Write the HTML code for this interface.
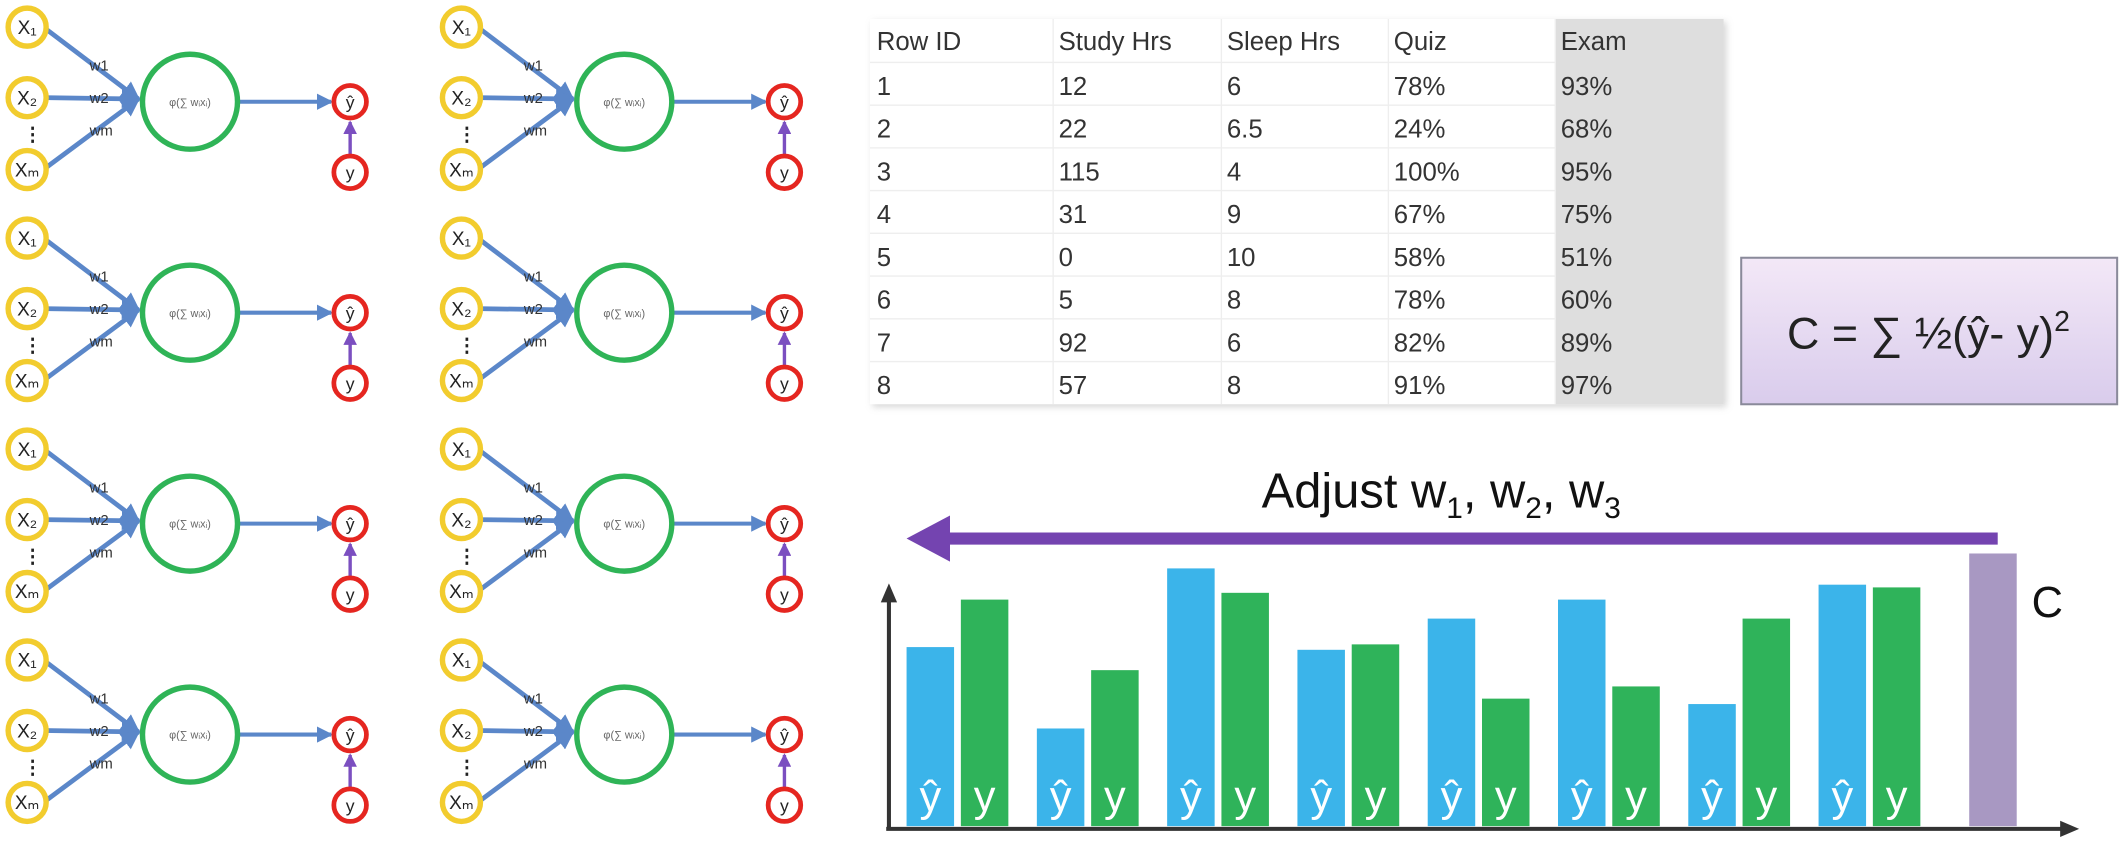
<!DOCTYPE html>
<html><head><meta charset="utf-8"><style>
html,body{margin:0;padding:0;background:#fff;}
svg{display:block;font-family:"Liberation Sans",sans-serif;}
</style></head><body>
<svg id="root" width="2128" height="856" viewBox="0 0 1568 631" preserveAspectRatio="none" xmlns="http://www.w3.org/2000/svg">
<defs>
<linearGradient id="boxg" x1="0" y1="0" x2="0" y2="1"><stop offset="0" stop-color="#f3e8f7"/><stop offset="1" stop-color="#d9ccec"/></linearGradient>
<marker id="ah" markerWidth="4" markerHeight="4" refX="3.5" refY="2" orient="auto" markerUnits="strokeWidth"><path d="M0,0 L4,2 L0,4 z" fill="#5b87c9"/></marker>
<marker id="ahp" markerWidth="4" markerHeight="4" refX="3.5" refY="2" orient="auto" markerUnits="strokeWidth"><path d="M0,0 L4,2 L0,4 z" fill="#7b4fc0"/></marker>
<filter id="blur"><feGaussianBlur stdDeviation="2.5"/></filter>
</defs>
<g id="nets"></g>
<g id="table"></g>
<g>
<rect x="1283" y="190" width="277" height="108" fill="url(#boxg)" stroke="#8a8a9a" stroke-width="1.5"/>
<text x="1421" y="257" text-anchor="middle" font-size="33" fill="#222">C = ∑ ½(ŷ- y)<tspan dy="-13" font-size="21">2</tspan></text>
</g>
<g>
<text x="1062" y="374" text-anchor="middle" font-size="36" fill="#111">Adjust w<tspan dy="8" font-size="22">1</tspan><tspan dy="-8">, w</tspan><tspan dy="8" font-size="22">2</tspan><tspan dy="-8">, w</tspan><tspan dy="8" font-size="22">3</tspan></text>
<line x1="1472" y1="397" x2="692" y2="397" stroke="#b89ae0" stroke-width="16" opacity="0.5" filter="url(#blur)"/>
<line x1="1472" y1="397" x2="692" y2="397" stroke="#7444b0" stroke-width="9"/>
<path d="M668,397 L700,380 L700,414 z" fill="#7444b0"/>
</g>
<g id="chart"></g>
</svg>
<script>
const categories=["1","2","3","4","5","6","7","8"];
const yhatValues=[132,72,190,130,153,167,90,178];
const yValues=[167,115,172,134,94,103,153,176];
const costValue=201;
const headers=["Row ID","Study Hrs","Sleep Hrs","Quiz","Exam"];
const rows=[["1","12","6","78%","93%"],["2","22","6.5","24%","68%"],["3","115","4","100%","95%"],["4","31","9","67%","75%"],["5","0","10","58%","51%"],["6","5","8","78%","60%"],["7","92","6","82%","89%"],["8","57","8","91%","97%"]];
const NS="http://www.w3.org/2000/svg";
function mk(tag,attrs,parent,txt){const e=document.createElementNS(NS,tag);for(const k in attrs)e.setAttribute(k,attrs[k]);if(txt!==undefined)e.textContent=txt;parent.appendChild(e);return e;}

const nets=document.getElementById('nets');
for(let c=0;c<2;c++)for(let r=0;r<4;r++){
  const ox=c*320, oy=r*155.5;
  const g=mk('g',{transform:`translate(${ox},${oy})`},nets);
  
  
  const ins=[[20,20],[20,72],[20,125]];
  ins.forEach(p=>mk('line',{x1:p[0]+12,y1:p[1],x2:102,y2:73,stroke:'#5b87c9','stroke-width':3.5,'marker-end':'url(#ah)'},g));
  mk('line',{x1:176,y1:75,x2:244,y2:75,stroke:'#5b87c9','stroke-width':3,'marker-end':'url(#ah)'},g);
  mk('text',{x:66,y:52,'font-size':11,fill:'#333'},g,'w1');
  mk('text',{x:66,y:76,'font-size':11,fill:'#333'},g,'w2');
  mk('text',{x:66,y:100,'font-size':11,fill:'#333'},g,'wm');
  mk('text',{x:17,y:104,'font-size':14,fill:'#222','font-weight':'bold'},g,'⋮');
  const lbl=['X₁','X₂','Xₘ'];
  ins.forEach((p,i)=>{mk('circle',{cx:p[0],cy:p[1],r:14,fill:'#fff',stroke:'#f2cc2e','stroke-width':4},g);mk('text',{x:p[0],y:p[1]+5,'text-anchor':'middle','font-size':14,fill:'#222'},g,lbl[i]);});
  mk('circle',{cx:140,cy:75,r:35,fill:'#fff',stroke:'#2fb457','stroke-width':4},g);
  mk('text',{x:140,y:78,'text-anchor':'middle','font-size':8,fill:'#666'},g,'φ(∑ wᵢxᵢ)');
  mk('line',{x1:264,y1:115,x2:264,y2:92,stroke:'#e0b040','stroke-width':6,opacity:0.5,filter:'url(#blur)'},g);
  mk('line',{x1:258,y1:115,x2:258,y2:90,stroke:'#7b4fc0','stroke-width':2.5,'marker-end':'url(#ahp)'},g);
  [[258,75,'ŷ'],[258,127,'y']].forEach(p=>{mk('circle',{cx:p[0],cy:p[1],r:12,fill:'#fff',stroke:'#e52620','stroke-width':3.5},g);mk('text',{x:p[0],y:p[1]+5,'text-anchor':'middle','font-size':13,fill:'#222'},g,p[2]);});
}

const tb=document.getElementById('table');
mk('rect',{x:643,y:16,width:629,height:284,fill:'#bbb',opacity:0.6,filter:'url(#blur)'},tb);
mk('rect',{x:641,y:14,width:629,height:284,fill:'#fff'},tb);
mk('rect',{x:1146,y:14,width:124,height:284,fill:'#dedede'},tb);
const colX=[646,780,904,1027,1150], colL=[641,776,900,1023,1146];
colL.slice(1).forEach(x=>mk('line',{x1:x,y1:14,x2:x,y2:298,stroke:'#eee','stroke-width':1},tb));
headers.forEach((h,i)=>{const t=mk('text',{x:colX[i],y:37,'font-size':19,fill:'#333'},tb,h);});
rows.forEach((row,ri)=>{const y=46+ri*31.5;
  mk('line',{x1:641,y1:y,x2:1146,y2:y,stroke:'#eee','stroke-width':1},tb);
  row.forEach((v,i)=>mk('text',{x:colX[i],y:y+24,'font-size':19,fill:'#333'},tb,v));});

const ch=document.getElementById('chart');
const base=609, gx0=668, gstep=96, bw=35;
function xHat(i){return gx0+i*gstep;}
function xY(i){return gx0+i*gstep+40;}
function yS(v){return base-v;}
categories.forEach((c,i)=>{
  const b1=mk('rect',{x:xHat(i),y:yS(yhatValues[i]),width:bw,height:yhatValues[i],fill:'#3bb4ea'},ch);
  
  
  const b2=mk('rect',{x:xY(i),y:yS(yValues[i]),width:bw,height:yValues[i],fill:'#2fb35a'},ch);
  
  
  mk('text',{x:xHat(i)+bw/2,y:598,'text-anchor':'middle','font-size':32,fill:'#fff'},ch,'ŷ');
  mk('text',{x:xY(i)+bw/2,y:598,'text-anchor':'middle','font-size':32,fill:'#fff'},ch,'y');
});
const cb=mk('rect',{x:1451,y:yS(costValue),width:35,height:costValue,fill:'#a898c2'},ch);


mk('text',{x:1497,y:455,'font-size':32,fill:'#111'},ch,'C');
const ya=mk('line',{x1:655,y1:612,x2:655,y2:440,stroke:'#333','stroke-width':3},ch);


mk('path',{d:'M649,444 L655,430 L661,444 z',fill:'#333'},ch);
const xa=mk('line',{x1:653,y1:611,x2:1520,y2:611,stroke:'#333','stroke-width':3},ch);


mk('path',{d:'M1518,605 L1532,611 L1518,617 z',fill:'#333'},ch);
</script>
</body></html>
